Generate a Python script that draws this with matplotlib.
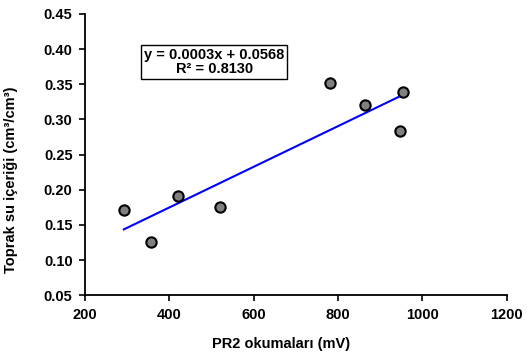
import matplotlib
matplotlib.use("Agg")
import matplotlib.pyplot as plt
import numpy as np

plt.rcParams['font.family'] = ['Liberation Sans', 'DejaVu Sans']
plt.rcParams['font.weight'] = 'bold'

# PR2 readings (mV) and soil water content (cm3/cm3)
pr2_mv = [292, 356, 420, 521, 782, 865, 948, 955]
water = [0.172, 0.126, 0.191, 0.176, 0.352, 0.320, 0.284, 0.339]
slope, intercept = 0.0003, 0.0568
r2 = 0.8130

fig = plt.figure(figsize=(5.29, 3.56), dpi=100)
ax = fig.add_axes([0.1607, 0.1705, 0.7973, 0.7902])

x_fit = np.array([min(pr2_mv), max(pr2_mv)])
coef = np.polyfit(pr2_mv, water, 1)
ax.plot(x_fit, np.polyval(coef, x_fit), color='#0000ff', lw=1.5, zorder=2)
ax.scatter(pr2_mv, water, s=55, facecolor='#808080', edgecolor='black',
           linewidths=1.5, zorder=3)

ax.set_xlim(200, 1200)
ax.set_ylim(0.05, 0.45)
ax.set_xticks(range(200, 1201, 200))
ax.set_yticks(np.arange(0.05, 0.451, 0.05))
ax.yaxis.set_major_formatter(matplotlib.ticker.FormatStrFormatter('%.2f'))
ax.tick_params(direction='out', length=4, width=1.2, labelsize=10.5, pad=5)
for s in ['top', 'right']:
    ax.spines[s].set_visible(False)
for s in ['left', 'bottom']:
    ax.spines[s].set_linewidth(1.3)

ax.set_xlabel('PR2 okumaları (mV)', fontsize=10.5, fontweight='bold')
ax.set_ylabel('Toprak su içeriği (cm³/cm³)', fontsize=10.5, fontweight='bold')
ax.xaxis.set_label_coords(0.465, -0.15)
ax.yaxis.set_label_coords(-0.158, 0.41)

ax.text(0.306, 0.83, f'y = {slope:.4f}x + {intercept:.4f}\nR² = {r2:.4f}',
        transform=ax.transAxes, ha='center', va='center', fontsize=10.5,
        fontweight='bold', linespacing=1.0,
        bbox=dict(boxstyle='square,pad=0.2', facecolor='white', edgecolor='black', lw=1))

fig.savefig('out.png', dpi=100)
